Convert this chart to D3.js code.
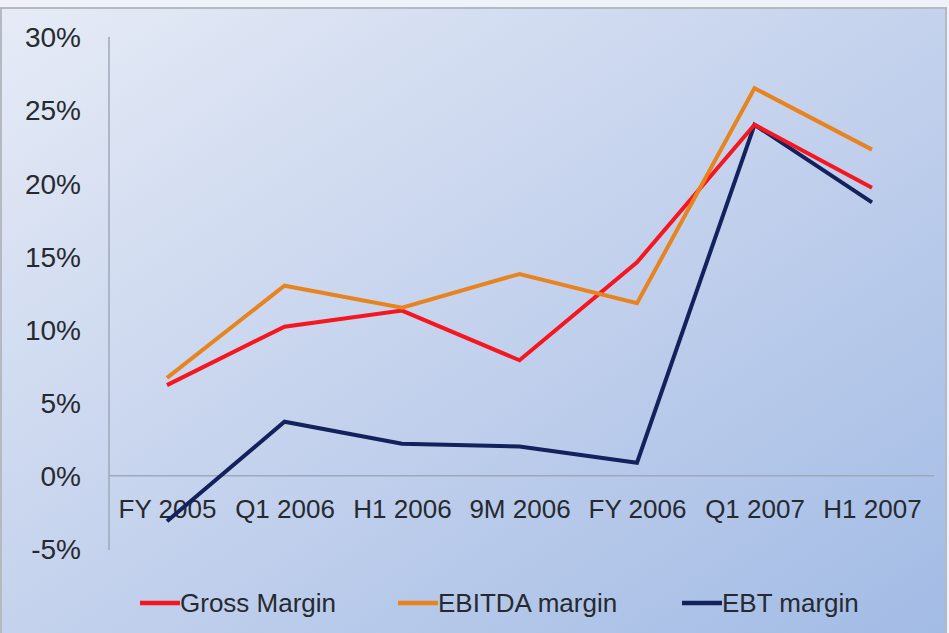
<!DOCTYPE html>
<html><head><meta charset="utf-8">
<script src="https://cdn.jsdelivr.net/npm/d3@7"></script>
<style>body{margin:0;background:#f0f2fa;}svg{display:block;font-family:"Liberation Sans",Arial,sans-serif;}</style>
</head><body><svg id="c" width="949" height="633"></svg>
<script>
const categories = ["FY 2005","Q1 2006","H1 2006","9M 2006","FY 2006","Q1 2007","H1 2007"];
const grossMargin = [6.2, 10.2, 11.3, 7.9, 14.6, 24.0, 19.7];
const ebitdaMargin = [6.7, 13.0, 11.5, 13.8, 11.8, 26.5, 22.3];
const ebtMargin = [-3.1, 3.7, 2.2, 2.0, 0.9, 24.0, 18.7];
const yTicks = [30, 25, 20, 15, 10, 5, 0, -5];
const seriesNames = ["Gross Margin","EBITDA margin","EBT margin"];
const seriesColors = ["#f5161f","#e8841f","#13215c"];

const svg = d3.select("#c");
const defs = svg.append("defs");
const g = defs.append("linearGradient").attr("id","bg").attr("x1","0").attr("y1","0").attr("x2","1").attr("y2","1");
g.append("stop").attr("offset","0%").attr("stop-color","#e6ebf6");
g.append("stop").attr("offset","50%").attr("stop-color","#c4d2ed");
g.append("stop").attr("offset","100%").attr("stop-color","#a2bbe5");
svg.append("rect").attr("x",0).attr("y",0).attr("width",949).attr("height",633).attr("fill","#f0f2fa");
svg.append("rect").attr("x",1).attr("y",8).attr("width",945).attr("height",630).attr("fill","url(#bg)")
  .attr("stroke","#b5b9c2").attr("stroke-width",2);

const x = d3.scalePoint().domain(categories).range([167, 872]);
const y = d3.scaleLinear().domain([-5, 30]).range([549, 37]);

// axes lines
svg.append("line").attr("x1",109).attr("x2",109).attr("y1",y(30)).attr("y2",y(-5)+1)
  .attr("stroke","#9ea8ba").attr("stroke-width",1.5);
svg.append("line").attr("x1",109).attr("x2",934).attr("y1",y(0)).attr("y2",y(0))
  .attr("stroke","#9ea8ba").attr("stroke-width",1.5);

// y tick labels
const yAxis = d3.axisLeft(y).tickValues(yTicks).tickSize(0).tickPadding(0).tickFormat(d => d + "%");
const ya = svg.append("g").attr("transform","translate(81,0)").call(yAxis);
ya.select(".domain").remove();
ya.selectAll("text").attr("font-size",28).attr("fill","#262a30").attr("font-family","Liberation Sans, Arial, sans-serif").attr("dy","0.35em");

// x tick labels
const xAxis = d3.axisBottom(x).tickSize(0).tickPadding(0);
const xa = svg.append("g").attr("transform","translate(0,"+(y(0)+33)+")").call(xAxis);
xa.select(".domain").remove();
xa.selectAll("text").attr("font-size",26).attr("fill","#262a30").attr("font-family","Liberation Sans, Arial, sans-serif").attr("dy","0.35em").attr("y",0);

// lines
const line = d3.line().x((d,i) => x(categories[i])).y(d => y(d));
[ebtMargin, grossMargin, ebitdaMargin].forEach((s, k) => {
  const idx = [2,0,1][k];
  svg.append("path").datum(s).attr("d", line).attr("fill","none")
    .attr("stroke", seriesColors[idx]).attr("stroke-width",4).attr("stroke-linejoin","miter");
});
// redraw gross on top near end? keep order: EBITDA top, gross, EBT

// legend
const legendX = [140, 398, 682];
seriesNames.forEach((n, i) => {
  const lg = svg.append("g").attr("transform","translate("+legendX[i]+",603)");
  lg.append("line").attr("x1",0).attr("x2",40).attr("y1",0).attr("y2",0)
    .attr("stroke",seriesColors[i]).attr("stroke-width",4.5);
  lg.append("text").attr("x",40).attr("y",0).attr("dy","0.35em").attr("font-size",26)
    .attr("fill","#262a30").text(n);
});
</script></body></html>
